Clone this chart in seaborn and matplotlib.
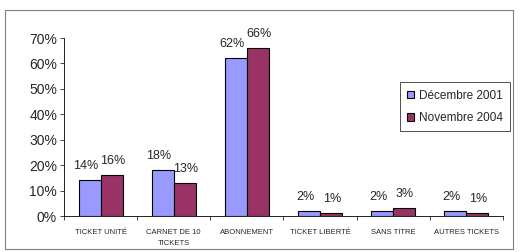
import matplotlib
matplotlib.use("Agg")
import matplotlib.pyplot as plt
import seaborn as sns
import pandas as pd
from matplotlib.patches import Rectangle
from matplotlib.ticker import FuncFormatter, MultipleLocator

categories = ["TICKET UNITÉ", "CARNET DE 10\nTICKETS", "ABONNEMENT",
              "TICKET LIBERTÉ", "SANS TITRE", "AUTRES TICKETS"]
series_names = ["Décembre 2001", "Novembre 2004"]
dec_2001 = [14, 18, 62, 2, 2, 2]
nov_2004 = [16, 13, 66, 1, 3, 1]
colors = ["#9999FF", "#993366"]

df = pd.DataFrame({
    "cat": categories * 2,
    "serie": [series_names[0]] * 6 + [series_names[1]] * 6,
    "val": dec_2001 + nov_2004,
})

sns.set_style("white")
plt.rcParams["font.family"] = ["Liberation Sans", "DejaVu Sans"]

fig = plt.figure(figsize=(5.25, 2.52), dpi=100)
ax = fig.add_axes([64/525, 1-216/252, (503-64)/525, (216-38)/252])

sns.barplot(data=df, x="cat", y="val", hue="serie", palette=colors,
            order=categories, hue_order=series_names, width=0.6, saturation=1,
            edgecolor="black", linewidth=0.8, ax=ax, errorbar=None)

for cont, vals, dx in zip(ax.containers, [dec_2001, nov_2004], [-0.05, 0.01]):
    for bar, v in zip(cont, vals):
        ax.text(bar.get_x() + bar.get_width()/2 + dx, bar.get_height() + 3.2,
                f"{v}%", ha="center", va="bottom", fontsize=9)

ax.set_ylim(0, 70)
ax.set_xlim(-0.5, 5.5)
ax.yaxis.set_major_locator(MultipleLocator(10))
ax.yaxis.set_major_formatter(FuncFormatter(lambda v, p: f"{v:.0f}%"))
ax.tick_params(axis="y", labelsize=10, length=3, width=0.6, left=True, pad=2)
ax.set_xticks(range(6))
ax.set_xticklabels(categories, fontsize=5.5, linespacing=1.9, va="top")
ax.tick_params(axis="x", which="major", length=0, pad=9)
ax.set_xticks([i - 0.5 for i in range(7)], minor=True)
ax.tick_params(axis="x", which="minor", length=3, width=0.6, bottom=True)
ax.set_xlabel("")
ax.set_ylabel("")
for s in ["top", "right"]:
    ax.spines[s].set_visible(False)
for s in ["left", "bottom"]:
    ax.spines[s].set_color("black")
    ax.spines[s].set_linewidth(0.6)

leg = ax.legend(loc="upper left", bbox_to_anchor=(0.765, 0.75), fontsize=8.5,
                frameon=True, fancybox=False, edgecolor="black",
                handlelength=0.6, handleheight=0.6, handletextpad=0.4,
                borderpad=0.6, labelspacing=0.9, borderaxespad=0, title=None)
leg.get_frame().set_linewidth(0.6)

fig.patches.append(Rectangle((5/525, 3/252), 508/525, 239/252, transform=fig.transFigure,
                             fill=False, edgecolor="#808080", linewidth=0.8))

fig.savefig("out.png", dpi=100)
